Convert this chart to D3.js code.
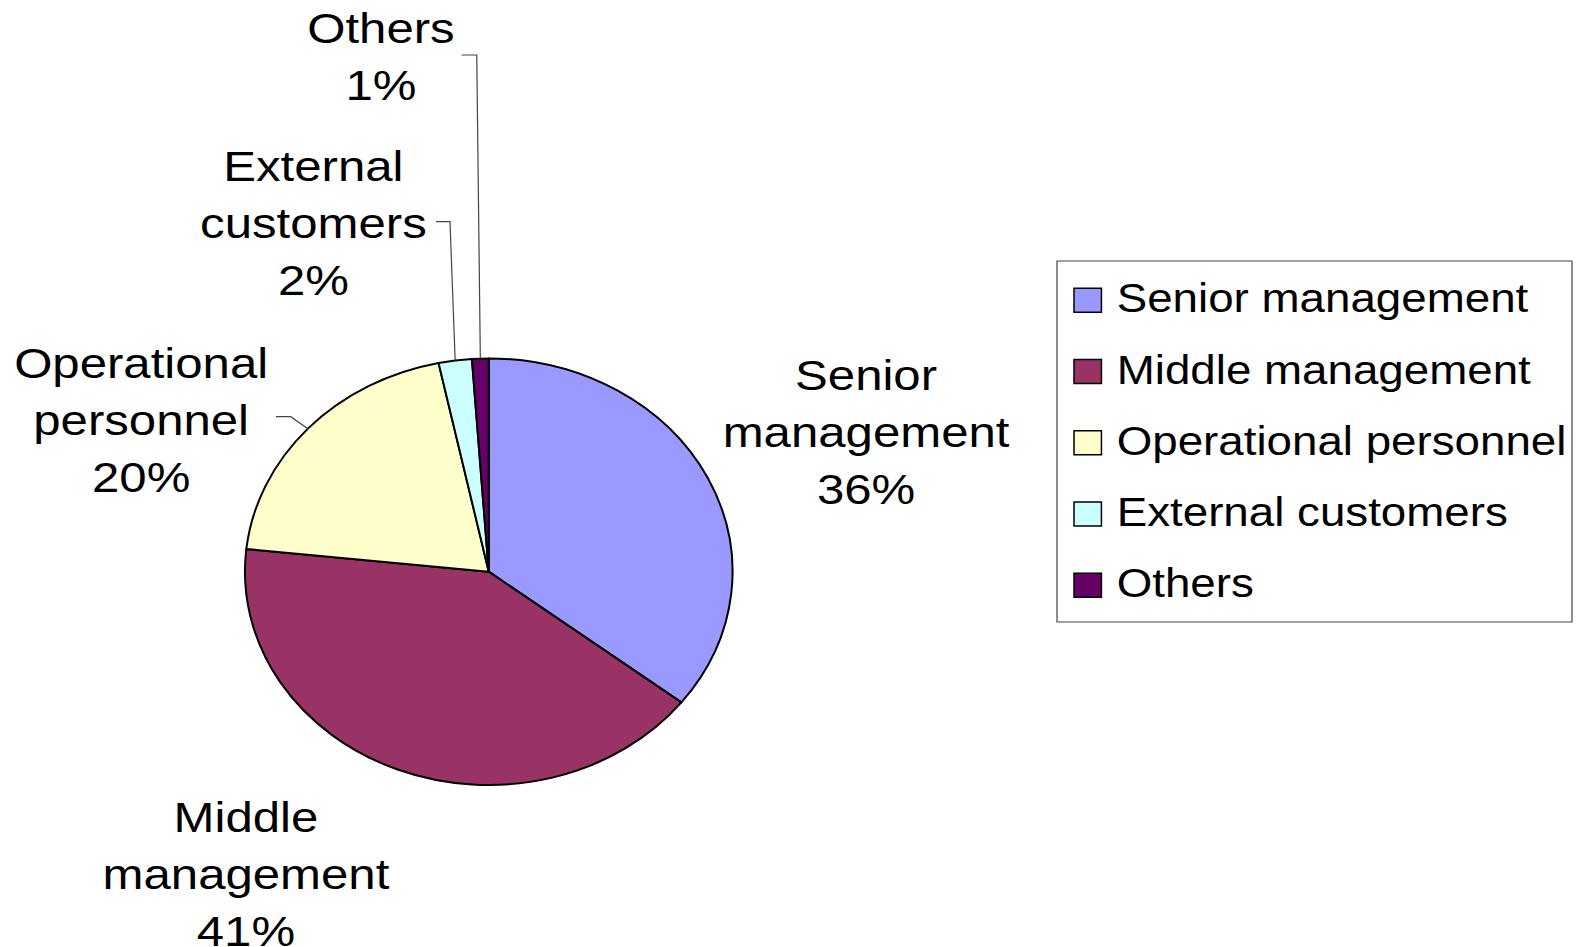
<!DOCTYPE html>
<html>
<head>
<meta charset="utf-8">
<script src="https://cdn.jsdelivr.net/npm/d3@7"></script>
<style>
  body { margin: 0; background: #fff; }
  svg { display: block; }
  text { font-family: "Liberation Sans", Arial, sans-serif; fill: #000; }
</style>
</head>
<body>
<div id="chart"></div>
<script>
// Chart data
const categories = ["Senior management", "Middle management", "Operational personnel", "External customers", "Others"];
const shares = [35.5, 41.2, 20.0, 2.2, 1.1];
const colors = ["#9999FF", "#993366", "#FFFFCC", "#CCFFFF", "#660066"];

// Layout (the original picture is stretched horizontally, so we draw in
// unstretched units and scale the whole thing on x)
const width = 1576, height = 947;
const stretchX = 1.143;
const cx = 427.6, cy = 571.7, radius = 213.3;

// label anchor (centre x, first baseline) and leader elbow/end for each slice
const labelLayout = [
    { x: 757.7, y: 390.5, leader: null },
    { x: 215.2, y: 832, leader: null },
    { x: 123.5, y: 378, leader: [[254.3, 416.7], [241.5, 416.7]] },
    { x: 274.2, y: 181.5, leader: [[393.7, 221.7], [381.5, 221.7]] },
    { x: 333.3, y: 43, leader: [[417.1, 55], [403.9, 55]] }
];

const svg = d3.select("#chart").append("svg")
    .attr("width", width)
    .attr("height", height);

svg.append("rect").attr("width", width).attr("height", height).attr("fill", "#fff");

const root = svg.append("g").attr("transform", `scale(${stretchX},1)`);

// Pie
const pie = d3.pie().sort(null).value(d => d);
const arcs = pie(shares);
const arc = d3.arc().innerRadius(0).outerRadius(radius);
const total = d3.sum(shares);

const pieG = root.append("g").attr("transform", `translate(${cx},${cy})`);

pieG.selectAll("path.slice")
    .data(arcs)
    .join("path")
    .attr("class", "slice")
    .attr("d", arc)
    .attr("fill", (d, i) => colors[i])
    .attr("stroke", "#000")
    .attr("stroke-width", 2)
    .attr("stroke-linejoin", "round")
    .attr("vector-effect", "non-scaling-stroke");

// Leader lines
arcs.forEach((d, i) => {
    const lay = labelLayout[i];
    if (!lay.leader) return;
    const mid = (d.startAngle + d.endAngle) / 2;
    const p = d3.pointRadial(mid, radius);
    const pts = [[cx + p[0], cy + p[1]], ...lay.leader];
    root.append("path")
        .attr("d", d3.line()(pts))
        .attr("fill", "none")
        .attr("stroke", "#444")
        .attr("stroke-width", 1.2)
        .attr("vector-effect", "non-scaling-stroke");
});

// Data labels
const labelSize = 43, lineGap = 57;
arcs.forEach((d, i) => {
    const lay = labelLayout[i];
    const lines = categories[i].split(" ").concat([Math.round(d.value / total * 100) + "%"]);
    const t = root.append("text")
        .attr("text-anchor", "middle")
        .attr("font-size", labelSize);
    lines.forEach((ln, j) => {
        t.append("tspan").attr("x", lay.x).attr("y", lay.y + j * lineGap).text(ln);
    });
});

// Legend
const legX = 1057 / stretchX, legY = 261;
const legW = (1572 - 1057) / stretchX, legH = 361;
const legend = root.append("g");
legend.append("rect")
    .attr("x", legX).attr("y", legY)
    .attr("width", legW).attr("height", legH)
    .attr("fill", "#fff")
    .attr("stroke", "#444")
    .attr("stroke-width", 1.2)
    .attr("vector-effect", "non-scaling-stroke");

const rowY = d3.scaleLinear().domain([0, 4]).range([300.3, 585.3]);
const rows = legend.selectAll("g.row")
    .data(categories)
    .join("g")
    .attr("class", "row")
    .attr("transform", (d, i) => `translate(${1074 / stretchX},${rowY(i)})`);

rows.append("rect")
    .attr("x", 0).attr("y", -12)
    .attr("width", 24).attr("height", 24)
    .attr("fill", (d, i) => colors[i])
    .attr("stroke", "#000")
    .attr("stroke-width", 1.5)
    .attr("vector-effect", "non-scaling-stroke");

rows.append("text")
    .attr("x", (1116.7 - 1074) / stretchX)
    .attr("y", 12)
    .attr("font-size", 40)
    .text(d => d);
</script>
</body>
</html>
